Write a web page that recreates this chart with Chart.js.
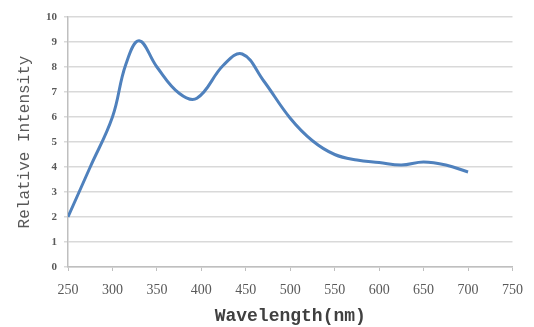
<!DOCTYPE html>
<html>
<head>
<meta charset="utf-8">
<script src="https://cdn.jsdelivr.net/npm/chart.js@4/dist/chart.umd.min.js"></script>
<style>
  html, body { margin: 0; padding: 0; background: #ffffff; }
  canvas { display: block; }
</style>
</head>
<body>
<canvas id="espectro" width="534" height="327"></canvas>
<script>
// Datos
const longitudesOnda = [250, 275, 300, 315, 330, 350, 375, 395, 425, 446, 470, 500, 525, 550, 575, 600, 625, 650, 675, 700];
const intensidades = [2.0, 4.0, 6.0, 8.1, 9.05, 8.0, 6.95, 6.75, 8.08, 8.52, 7.45, 5.95, 5.05, 4.5, 4.28, 4.18, 4.08, 4.2, 4.08, 3.8];

const ejeX = { min: 250, max: 750, paso: 50 };
const ejeY = { min: 0, max: 10, paso: 1 };

const tituloX = 'Wavelength(nm)';
const tituloY = 'Relative Intensity';

const puntos = longitudesOnda.map((x, i) => ({ x: x, y: intensidades[i] }));

new Chart(document.getElementById('espectro'), {
    type: 'line',
    data: {
        datasets: [{
            data: puntos,
            borderColor: '#4f81bd',
            borderWidth: 3,
            pointRadius: 0,
            tension: 0.4,
            fill: false
        }]
    },
    options: {
        responsive: false,
        animation: false,
        layout: { padding: { top: 17, right: 13, left: 0, bottom: 0 } },
        plugins: {
            legend: { display: false },
            tooltip: { enabled: false }
        },
        scales: {
            x: {
                type: 'linear',
                min: ejeX.min,
                max: ejeX.max,
                afterFit: (escala) => { escala.height = 60; },
                ticks: {
                    stepSize: ejeX.paso,
                    maxRotation: 0,
                    padding: 11,
                    color: '#595959',
                    font: { family: 'Liberation Serif', size: 14 }
                },
                grid: {
                    drawOnChartArea: false,
                    drawTicks: true,
                    tickLength: 4,
                    color: '#bfbfbf'
                },
                border: { color: '#bfbfbf', width: 1.5 },
                title: {
                    display: true,
                    text: tituloX,
                    color: '#404040',
                    padding: { top: 0, bottom: 0 },
                    font: { family: 'Liberation Mono', size: 18, weight: 'bold' }
                }
            },
            y: {
                min: ejeY.min,
                max: ejeY.max,
                afterFit: (escala) => { escala.width = 68; },
                ticks: {
                    stepSize: ejeY.paso,
                    padding: 7,
                    color: '#595959',
                    font: { family: 'Liberation Serif', size: 11, weight: 'bold' }
                },
                grid: {
                    color: '#d9d9d9',
                    lineWidth: 1.5,
                    tickLength: 4
                },
                border: { color: '#bfbfbf', width: 1.5 },
                title: {
                    display: true,
                    text: tituloY,
                    color: '#595959',
                    padding: { top: 15, bottom: 0 },
                    font: { family: 'Liberation Mono', size: 16 }
                }
            }
        }
    }
});
</script>
</body>
</html>
